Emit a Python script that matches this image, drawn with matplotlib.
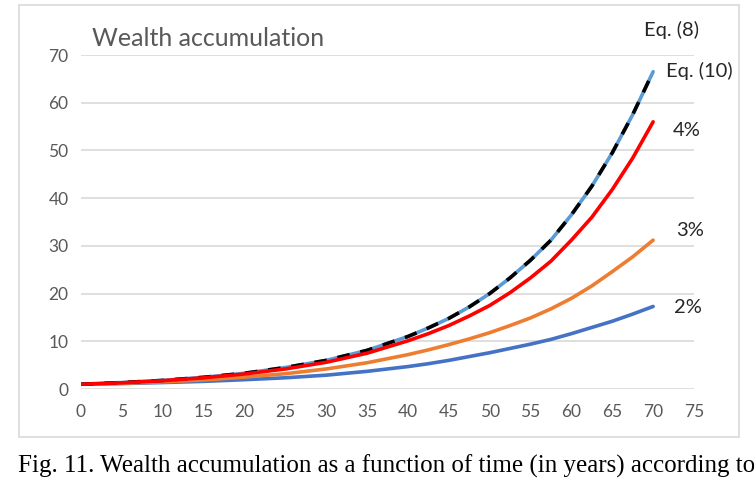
import matplotlib
matplotlib.use("Agg")
import matplotlib.pyplot as plt
from matplotlib.patches import Rectangle

# ---- data ----
years = [0, 5, 10, 15, 20, 25, 30, 35, 40, 42.5, 45, 47.5, 50, 52.5, 55, 57.5,
         60, 62.5, 65, 67.5, 70]
rate_2 = [1.0, 1.15, 1.35, 1.6, 1.95, 2.35, 2.9, 3.7, 4.7, 5.3, 6.0, 6.8, 7.6, 8.5,
          9.4, 10.4, 11.6, 12.9, 14.2, 15.7, 17.3]
rate_3 = [1.0, 1.2, 1.5, 1.9, 2.5, 3.2, 4.2, 5.5, 7.2, 8.2, 9.3, 10.5, 11.8, 13.3,
          14.9, 16.8, 19.0, 21.6, 24.6, 27.7, 31.2]
rate_4 = [1.0, 1.3, 1.75, 2.35, 3.15, 4.2, 5.6, 7.5, 10.1, 11.6, 13.3, 15.3, 17.5,
          20.2, 23.3, 26.8, 31.2, 36.0, 41.8, 48.4, 56.0]
eq_10 = [1.0, 1.35, 1.8, 2.45, 3.3, 4.5, 6.0, 8.1, 11.0, 12.8, 14.8, 17.2, 20.0,
         23.3, 27.0, 31.2, 36.5, 42.5, 49.5, 57.5, 66.5]
eq_8 = [1.0, 1.35, 1.8, 2.45, 3.3, 4.5, 6.0, 8.1, 11.0, 12.8, 14.8, 17.2, 20.0,
        23.3, 27.0, 31.2, 36.5, 42.5, 49.5, 57.5, 66.5]
x_ticks = [0, 5, 10, 15, 20, 25, 30, 35, 40, 45, 50, 55, 60, 65, 70, 75]
y_ticks = [0, 10, 20, 30, 40, 50, 60, 70]
title = "Wealth accumulation"
caption = "Fig. 11. Wealth accumulation as a function of time (in years) according to"

W, H = 754, 486
fig = plt.figure(figsize=(W / 100, H / 100), dpi=100)
fig.patch.set_facecolor("white")

# chart frame
fig.patches.append(Rectangle((19 / W, 1 - 437 / H), (739 - 19) / W, (437 - 5) / H,
                             transform=fig.transFigure, fill=False,
                             edgecolor="#D9D9D9", linewidth=1.2))

ax = fig.add_axes([81 / W, 1 - 389 / H, (694 - 81) / W, (389 - 55) / H])
ax.set_xlim(0, 75)
ax.set_ylim(0, 70)
for s in ax.spines.values():
    s.set_visible(False)
ax.set_xticks(x_ticks)
ax.set_yticks(y_ticks)
ax.tick_params(length=0, labelsize=12.5, labelcolor="#595959")
ax.tick_params(axis="y", pad=9)
ax.tick_params(axis="x", pad=11)
for lab in ax.get_xticklabels() + ax.get_yticklabels():
    lab.set_family("Lato")
ax.grid(axis="y", color="#D9D9D9", linewidth=1.2)
ax.set_axisbelow(True)

lw = 2.6
ax.plot(years, rate_2, color="#4472C4", lw=lw, solid_capstyle="round")
ax.plot(years, rate_3, color="#ED7D31", lw=lw, solid_capstyle="round")
ax.plot(years, eq_10, color="#5B9BD5", lw=lw, solid_capstyle="round")
ax.plot(years, eq_8, color="black", lw=lw, dashes=(3.5, 3))
ax.plot(years, rate_4, color="#FF0000", lw=lw, solid_capstyle="round")

lab_kw = dict(textcoords="offset pixels", fontsize=14.5, family="Lato",
              color="#262626", ha="center", va="center", annotation_clip=False)
ax.annotate("2%", xy=(years[-1], rate_2[-1]), xytext=(35, -1), **lab_kw)
ax.annotate("3%", xy=(years[-1], rate_3[-1]), xytext=(37, 10), **lab_kw)
ax.annotate("4%", xy=(years[-1], rate_4[-1]), xytext=(34, -9), **lab_kw)
ax.annotate("Eq. (10)", xy=(years[-1], eq_10[-1]), xytext=(46, 1), **lab_kw)
ax.annotate("Eq. (8)", xy=(years[-1], eq_8[-1]), xytext=(18, 42), **lab_kw)

fig.text(92 / W, 1 - 38 / H, title, fontsize=18, family="Lato",
         color="#595959", ha="left", va="center")

fig.text(18 / W, 1 - 466 / H, caption, fontsize=18, family="Liberation Serif",
         color="black", ha="left", va="center")

fig.savefig("out.png", dpi=100, facecolor="white")
